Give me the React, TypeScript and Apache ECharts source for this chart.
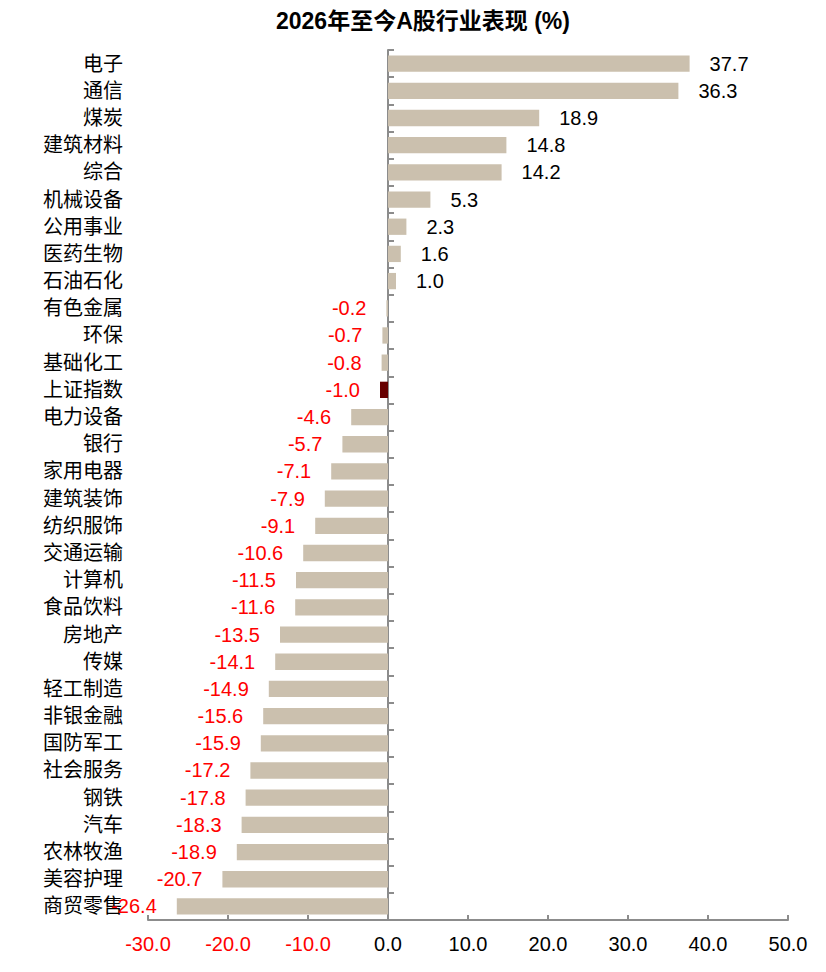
import { useEffect, useRef } from 'react'
import * as echarts from 'echarts'

const categories = [
  '电子', '通信', '煤炭', '建筑材料', '综合', '机械设备', '公用事业', '医药生物',
  '石油石化', '有色金属', '环保', '基础化工', '上证指数', '电力设备', '银行', '家用电器',
  '建筑装饰', '纺织服饰', '交通运输', '计算机', '食品饮料', '房地产', '传媒', '轻工制造',
  '非银金融', '国防军工', '社会服务', '钢铁', '汽车', '农林牧渔', '美容护理', '商贸零售'
]

const values = [
  37.7, 36.3, 18.9, 14.8, 14.2, 5.3, 2.3, 1.6,
  1.0, -0.2, -0.7, -0.8, -1.0, -4.6, -5.7, -7.1,
  -7.9, -9.1, -10.6, -11.5, -11.6, -13.5, -14.1, -14.9,
  -15.6, -15.9, -17.2, -17.8, -18.3, -18.9, -20.7, -26.4
]

const highlight = '上证指数'

const font = "'Liberation Sans', 'Noto Sans CJK SC', sans-serif"
const axisGray = '#8c8c8c'
const barColor = '#cbc0ae'
const markColor = '#660000'
const red = '#ff0000'

export default function App() {
  const ref = useRef<HTMLDivElement | null>(null)

  useEffect(() => {
    if (!ref.current) return
    const chart = echarts.init(ref.current, undefined, { renderer: 'svg' })

    chart.setOption({
      animation: false,
      backgroundColor: '#ffffff',
      textStyle: { fontFamily: font },
      title: {
        text: '2026年至今A股行业表现 (%)',
        left: 276,
        top: 9,
        padding: 0,
        textStyle: { fontSize: 23, fontWeight: 'bold', color: '#000', fontFamily: font }
      },
      grid: { left: 148, right: 38, top: 50, bottom: 52 },
      xAxis: {
        type: 'value',
        min: -30,
        max: 50,
        interval: 10,
        splitLine: { show: false },
        axisLine: { show: true, lineStyle: { color: axisGray, width: 2 } },
        axisTick: { show: true, inside: true, length: 5, lineStyle: { color: axisGray, width: 2 } },
        axisLabel: {
          fontSize: 20,
          margin: 14,
          fontFamily: font,
          color: (v: any) => (Number(v) < 0 ? red : '#000'),
          formatter: (v: number) => v.toFixed(1)
        }
      },
      yAxis: [
        {
          type: 'category',
          data: categories,
          inverse: true,
          position: 'left',
          axisLine: { show: false, onZero: false },
          axisTick: { show: false },
          axisLabel: { fontSize: 20, color: '#000', margin: 25, fontFamily: font }
        },
        {
          type: 'category',
          data: categories,
          inverse: true,
          position: 'left',
          axisLine: { show: true, onZero: true, lineStyle: { color: axisGray, width: 2 } },
          axisTick: { show: true, inside: true, length: 6, lineStyle: { color: axisGray, width: 2 } },
          axisLabel: { show: false }
        }
      ],
      series: [
        {
          type: 'bar',
          yAxisIndex: 0,
          barCategoryGap: '40%',
          data: values.map((v, i) => ({
            value: v,
            itemStyle: { color: categories[i] === highlight ? markColor : barColor },
            label: {
              show: true,
              position: v < 0 ? 'left' : 'right',
              distance: 20,
              fontSize: 20,
              fontFamily: font,
              color: v < 0 ? red : '#000',
              formatter: () => v.toFixed(1)
            }
          }))
        }
      ]
    })

    return () => {
      chart.dispose()
    }
  }, [])

  return (
    <div
      ref={ref}
      style={{ position: 'absolute', left: 0, top: 0, width: 826, height: 972 }}
    />
  )
}
